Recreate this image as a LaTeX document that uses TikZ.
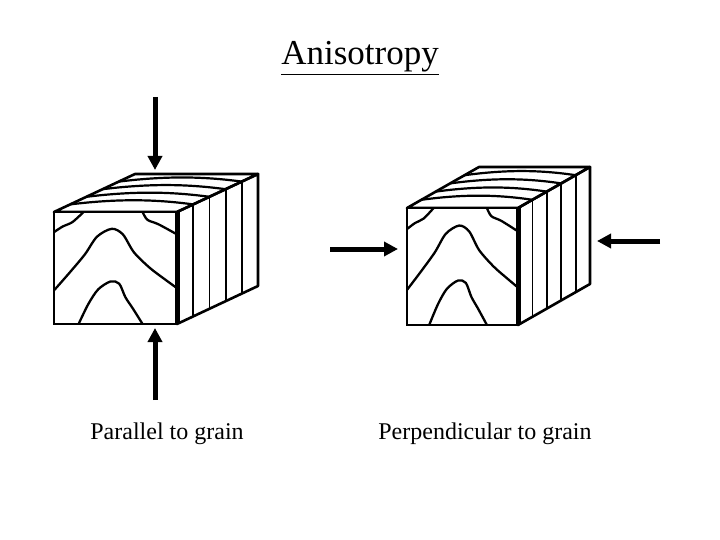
\documentclass[tikz,border=0pt]{standalone}
\usepackage{fontspec}
\setmainfont{Liberation Serif}
\usetikzlibrary{arrows.meta}
\newcommand\woodcube[6]{% x y w h dx dy
\begin{scope}[shift={(#1,#2)}]
 \def\W{#3}\def\H{#4}\def\DX{#5}\def\DY{#6}
 \draw[line width=2.6pt,line join=round] (0,0) -- (\DX,\DY) -- (\W+\DX,\DY) -- (\W,0) -- cycle;
 \draw[line width=2.6pt,line join=round] (\W,0) -- (\W+\DX,\DY) -- (\W+\DX,\H+\DY) -- (\W,\H) -- cycle;
 \foreach \f in {0.2,0.4,0.6,0.8}{
   \draw[line width=2.2pt] (\f*\DX,\f*\DY) .. controls (\f*\DX+0.4*\W,\f*\DY-6) and (\f*\DX+0.7*\W,\f*\DY-5) .. (\W+\f*\DX,\f*\DY);
   \draw[line width=1.8pt] (\W+\f*\DX,\f*\DY) -- (\W+\f*\DX,\H+\f*\DY);
 }
 \draw[line width=2.6pt,fill=white] (0,0) rectangle (\W,\H);
 \draw[line width=5pt] (\W,0) -- (\W,\H);
 \begin{scope}[xscale=\W,yscale=\H,line width=2.3pt]
  \draw plot[smooth] coordinates {(0,0.18) (0.07,0.13) (0.15,0.09) (0.24,0)};
  \draw plot[smooth] coordinates {(0.72,0) (0.76,0.07) (0.85,0.11) (1,0.2)};
  \draw plot[smooth] coordinates {(0,0.7) (0.12,0.55) (0.25,0.38) (0.35,0.22) (0.47,0.15) (0.56,0.2) (0.65,0.36) (0.78,0.5) (0.9,0.6) (1,0.68)};
  \draw plot[smooth] coordinates {(0.2,1) (0.28,0.82) (0.36,0.69) (0.46,0.62) (0.53,0.64) (0.58,0.76) (0.64,0.86) (0.72,1)};
 \end{scope}
\end{scope}}
\begin{document}
\begin{tikzpicture}[x=1pt,y=-1pt,
  force/.style={line width=5pt,-{Triangle[length=14pt,width=14pt]}}]
\useasboundingbox (0,0) rectangle (720,540);
\fill[white] (0,0) rectangle (720,540);
\node[font=\fontsize{35}{40}\selectfont] (title) at (360,58) {\underline{Anisotropy}};
\woodcube{54}{212}{123}{112}{81}{-38}
\woodcube{407}{208}{111}{117}{72}{-41}
\coordinate (a1) at (155,97); \coordinate (a2) at (155,170);
\coordinate (b1) at (155,400); \coordinate (b2) at (155,328);
\coordinate (c1) at (330,249); \coordinate (c2) at (398,249);
\coordinate (d1) at (660,241); \coordinate (d2) at (597,241);
\draw[force] (a1) -- (a2);
\draw[force] (b1) -- (b2);
\draw[force] (c1) -- (c2);
\draw[force] (d1) -- (d2);
\node[font=\fontsize{24}{28}\selectfont] (l1) at (167,434) {Parallel to grain};
\node[font=\fontsize{24}{28}\selectfont] (l2) at (485,434) {Perpendicular to grain};
\end{tikzpicture}
\end{document}
